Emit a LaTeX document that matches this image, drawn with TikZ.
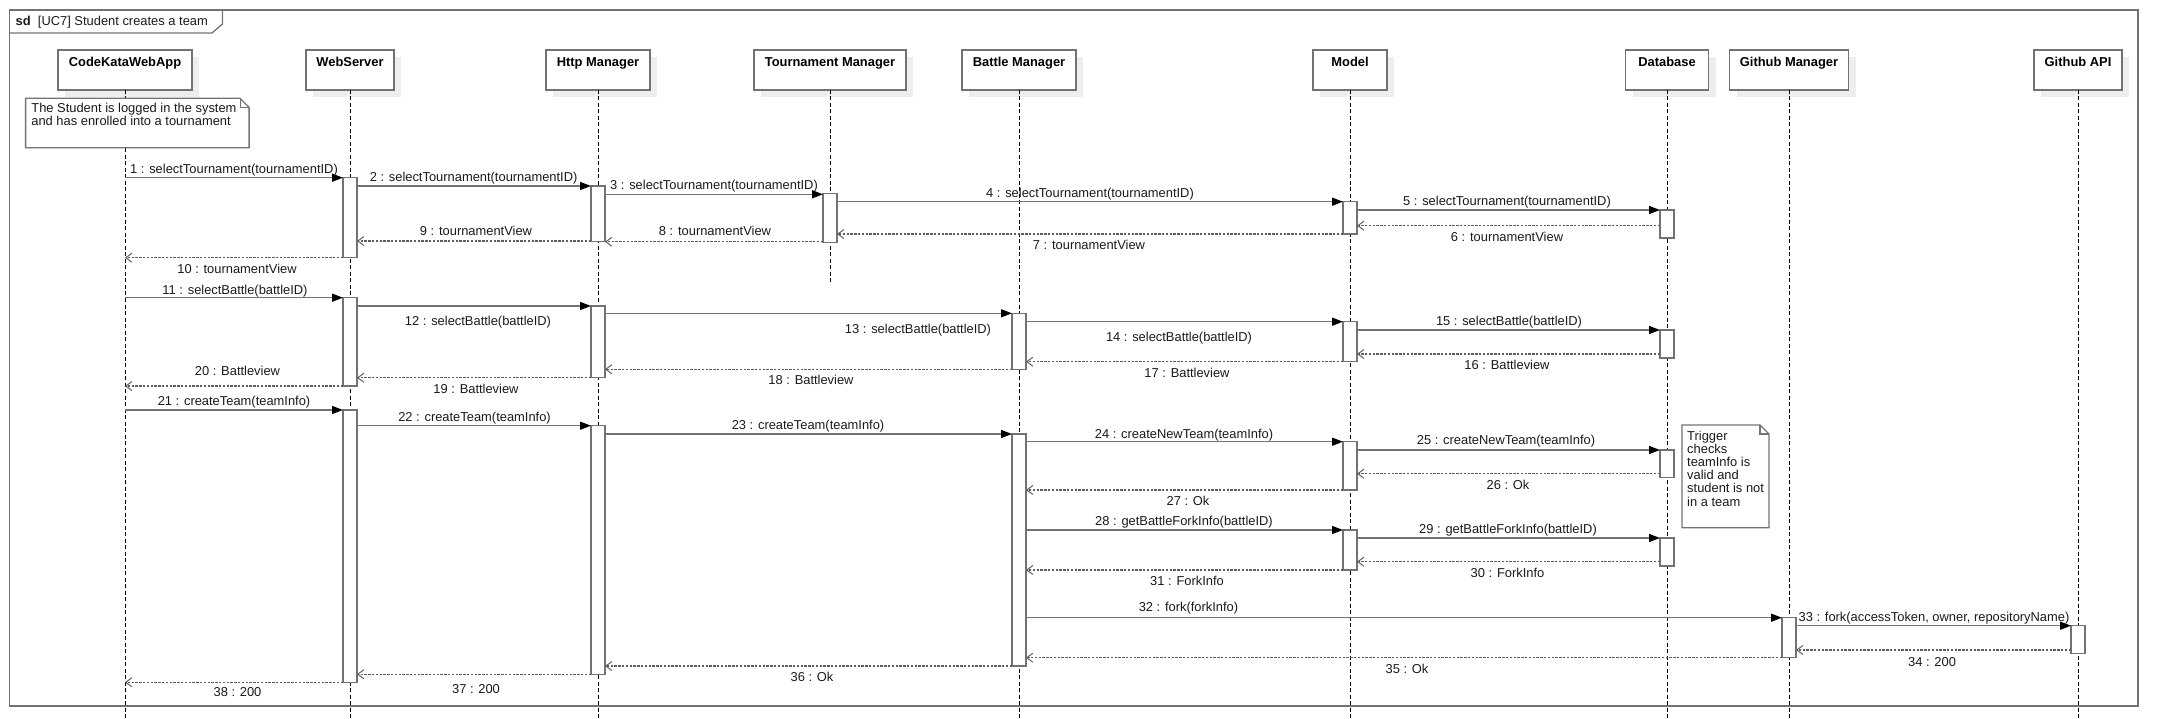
\documentclass[tikz,border=0pt]{standalone}
\usepackage{fontspec}
\setmainfont{Liberation Sans}
\usetikzlibrary{arrows.meta,shadows}
\definecolor{linegray}{HTML}{737373}
\definecolor{retgray}{HTML}{5E5E5E}
\definecolor{shadowgray}{HTML}{EEEEEE}
\definecolor{txt}{HTML}{1A1A1A}
\tikzset{
  every node/.style={font=\fontsize{12.9}{13.4}\selectfont},
  frameline/.style={draw=linegray, line width=1.3pt},
  head/.style={draw=linegray, line width=1.3pt, fill=white, inner xsep=0pt, inner ysep=0pt,
    text height=16.5pt, text depth=23.5pt, outer sep=0pt,
    font=\fontsize{12.9}{13.4}\selectfont\bfseries,
    general shadow={shadow xshift=7pt, shadow yshift=-7pt, fill=shadowgray}},
  act/.style={draw=linegray, line width=1.3pt, fill=white, minimum width=14pt, inner sep=0pt, outer sep=0pt},
  lifeline/.style={black, line width=0.9pt, dash pattern=on 4pt off 2.5pt},
  call/.style={linegray, line width=1.4pt, -{Triangle[length=11pt,width=8pt,color=black]}},
  ret/.style={retgray, line width=1.4pt, dash pattern=on 2.4pt off 1.4pt,
    -{Straight Barb[length=6pt,width=9pt,color=retgray,line width=1pt]}},
  lbl/.style={text=txt, inner sep=0pt, text height=9.2pt, text depth=2.7pt, yshift=-2.5pt},
  notebox/.style={draw=linegray, line width=1.3pt, fill=white, line join=miter},
  notetext/.style={text=txt, inner sep=0pt, align=left, anchor=north west, font=\fontsize{12.9}{13.2}\selectfont},
}
\newcommand{\actbar}[4]{\node[act, minimum height={#4-#3}] (#1) at (#2,{(#3+#4)/2}) {};}
\newcommand{\callmsg}[7]{\draw[call] (#2 |- 0,#4) -- (#3 |- 0,#4); \node[lbl] (#1) at (#5,#6) {#7};}
\newcommand{\retmsg}[7]{\draw[ret] (#2 |- 0,#4) -- (#3 |- 0,#4); \node[lbl] (#1) at (#5,#6) {#7};}
\newcommand{\notefold}[4]{%
  \draw[notebox] (#1,#2) -- ({#3-9},#2) -- (#3,{#2+9}) -- (#3,#4) -- (#1,#4) -- cycle;
  \draw[linegray, line width=1.1pt] ({#3-9},#2) -- ({#3-9},{#2+9}) -- (#3,{#2+9});}
\begin{document}
\begin{tikzpicture}[x=1pt,y=-1pt]
\useasboundingbox (0,0) rectangle (2178,719);
% frame
\draw[frameline] (9.3,10) rectangle (2138,706);
\draw[frameline] (9.3,33) -- (212,33) -- (222.5,24) -- (222.5,10);
\node[anchor=base west, inner sep=0pt, text=txt] (sdtitle) at (15.5,25.5) {\textbf{sd}\ \ [UC7] Student creates a team};
% lifeline heads
\node[head, minimum width=134pt] (ck) at (125,70) {CodeKataWebApp};
\node[head, minimum width=88pt] (ws) at (350,70) {WebServer};
\node[head, minimum width=104pt] (hm) at (598,70) {Http Manager};
\node[head, minimum width=152pt] (tm) at (830,70) {Tournament Manager};
\node[head, minimum width=114pt] (bm) at (1019,70) {Battle Manager};
\node[head, minimum width=74pt] (mo) at (1350,70) {Model};
\node[head, minimum width=83pt] (db) at (1667,70) {Database};
\node[head, minimum width=119pt] (gm) at (1789,70) {Github Manager};
\node[head, minimum width=88pt] (api) at (2078,70) {Github API};
% lifelines
\foreach \n in {ck,ws,hm,bm,mo,db,gm,api}{\draw[lifeline] (\n.south) -- (\n.south |- 0,719);}
\draw[lifeline] (tm.south) -- (tm.south |- 0,285);
% notes
\notefold{25.6}{98.3}{249.1}{147.7}
\node[notetext] (note1) at (31.2,102.6) {The Student is logged in the system\\and has enrolled into a tournament};
\notefold{1682}{425}{1769}{527.7}
\node[notetext] (note2) at (1687,430.6) {Trigger\\checks\\teamInfo is\\valid and\\student is not\\in a team};
% activation bars
\actbar{ws1}{350}{177.7}{257.7}
\actbar{hm1}{598}{186}{241.5}
\actbar{tm1}{830}{193.3}{242.3}
\actbar{mo1}{1350}{201.7}{234}
\actbar{db1}{1667}{210}{238}
\actbar{ws2}{350}{297.7}{386}
\actbar{hm2}{598}{306}{377.7}
\actbar{bm2}{1019}{313.3}{369.3}
\actbar{mo2}{1350}{321.7}{361.7}
\actbar{db2}{1667}{330}{358}
\actbar{ws3}{350}{410}{682.3}
\actbar{hm3}{598}{425.7}{674.3}
\actbar{bm3}{1019}{434}{666}
\actbar{mo3}{1350}{441.7}{490}
\actbar{db3}{1667}{450}{477.7}
\actbar{mo4}{1350}{530}{570}
\actbar{db4}{1667}{538}{566}
\actbar{gmb}{1789}{617.7}{657.7}
\actbar{apib}{2078}{625.7}{653.3}
% messages
\callmsg{m1}{ck}{ws1.west}{177.7}{234}{167.7}{1 : selectTournament(tournamentID)}
\callmsg{m2}{ws1.east}{hm1.west}{186}{473.6}{175.7}{2 : selectTournament(tournamentID)}
\callmsg{m3}{hm1.east}{tm1.west}{194.3}{714}{184}{3 : selectTournament(tournamentID)}
\callmsg{m4}{tm1.east}{mo1.west}{201.7}{1090}{191.7}{4 : selectTournament(tournamentID)}
\callmsg{m5}{mo1.east}{db1.west}{210}{1507}{200}{5 : selectTournament(tournamentID)}
\retmsg{m6}{db1.west}{mo1.east}{225.7}{1507}{235.7}{6 : tournamentView}
\retmsg{m7}{mo1.west}{tm1.east}{234}{1089}{243.7}{7 : tournamentView}
\retmsg{m8}{tm1.west}{hm1.east}{241.8}{715}{230}{8 : tournamentView}
\retmsg{m9}{hm1.west}{ws1.east}{241}{476}{230}{9 : tournamentView}
\retmsg{m10}{ws1.west}{ck}{257.7}{237}{267.7}{10 : tournamentView}
\callmsg{m11}{ck}{ws2.west}{297.7}{235}{288.3}{11 : selectBattle(battleID)}
\callmsg{m12}{ws2.east}{hm2.west}{306}{478}{319.3}{12 : selectBattle(battleID)}
\callmsg{m13}{hm2.east}{bm2.west}{313.3}{918}{327.7}{13 : selectBattle(battleID)}
\callmsg{m14}{bm2.east}{mo2.west}{321.7}{1179}{336}{14 : selectBattle(battleID)}
\callmsg{m15}{mo2.east}{db2.west}{330}{1509}{320}{15 : selectBattle(battleID)}
\retmsg{m16}{db2.west}{mo2.east}{354}{1507}{364}{16 : Battleview}
\retmsg{m17}{mo2.west}{bm2.east}{361.7}{1187}{371.7}{17 : Battleview}
\retmsg{m18}{bm2.west}{hm2.east}{369.3}{811}{379}{18 : Battleview}
\retmsg{m19}{hm2.west}{ws2.east}{377.7}{476}{387.7}{19 : Battleview}
\retmsg{m20}{ws2.west}{ck}{386}{237.5}{369.3}{20 : Battleview}
\callmsg{m21}{ck}{ws3.west}{410}{234}{400}{21 : createTeam(teamInfo)}
\callmsg{m22}{ws3.east}{hm3.west}{425.7}{474.5}{415.7}{22 : createTeam(teamInfo)}
\callmsg{m23}{hm3.east}{bm3.west}{434}{808}{423.3}{23 : createTeam(teamInfo)}
\callmsg{m24}{bm3.east}{mo3.west}{441.7}{1184}{432.3}{24 : createNewTeam(teamInfo)}
\callmsg{m25}{mo3.east}{db3.west}{450}{1506}{439}{25 : createNewTeam(teamInfo)}
\retmsg{m26}{db3.west}{mo3.east}{473.7}{1508}{483.3}{26 : Ok}
\retmsg{m27}{mo3.west}{bm3.east}{490}{1188}{499.3}{27 : Ok}
\callmsg{m28}{bm3.east}{mo4.west}{530}{1184}{520}{28 : getBattleForkInfo(battleID)}
\callmsg{m29}{mo4.east}{db4.west}{538}{1508}{527.7}{29 : getBattleForkInfo(battleID)}
\retmsg{m30}{db4.west}{mo4.east}{561.7}{1507.5}{571.7}{30 : ForkInfo}
\retmsg{m31}{mo4.west}{bm3.east}{570}{1187}{579.3}{31 : ForkInfo}
\callmsg{m32}{bm3.east}{gmb.west}{617.7}{1188.5}{606}{32 : fork(forkInfo)}
\callmsg{m33}{gmb.east}{apib.west}{625.7}{1934}{615.7}{33 : fork(accessToken, owner, repositoryName)}
\retmsg{m34}{apib.west}{gmb.east}{650}{1932}{660.7}{34 : 200}
\retmsg{m35}{gmb.west}{bm3.east}{657.7}{1407}{667.7}{35 : Ok}
\retmsg{m36}{bm3.west}{hm3.east}{666}{812}{675.7}{36 : Ok}
\retmsg{m37}{hm3.west}{ws3.east}{674.3}{476}{687.3}{37 : 200}
\retmsg{m38}{ws3.west}{ck}{682.3}{237.5}{691}{38 : 200}
\end{tikzpicture}
\end{document}
